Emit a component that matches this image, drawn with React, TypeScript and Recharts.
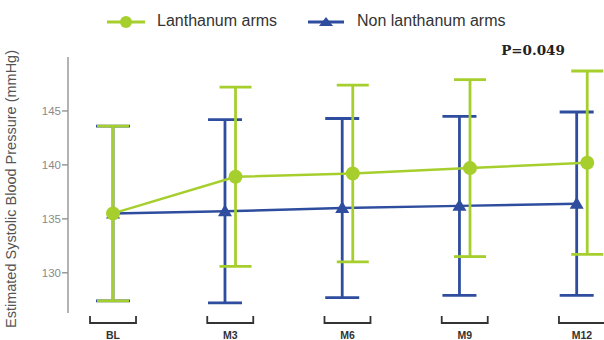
import React from 'react';
import { LineChart, Line, XAxis, YAxis, ErrorBar, Legend } from 'recharts';

const categories = ['BL', 'M3', 'M6', 'M9', 'M12'];
const lanthanumMean = [135.5, 138.9, 139.2, 139.7, 140.2];
const lanthanumSd = [8.1, 8.3, 8.2, 8.2, 8.5];
const nonLanthanumMean = [135.5, 135.7, 136.0, 136.2, 136.4];
const nonLanthanumSd = [8.1, 8.5, 8.3, 8.3, 8.5];
const yTicks = [130, 135, 140, 145];
const pValue = 'P=0.049';

const GREEN = '#a6cf2e';
const BLUE = '#2e4d9e';

// small side shift so the two groups' bars don't sit on top of each other (not at baseline)
const dodge = (i: number) => (i === 0 ? 0 : 0.045);

const greenData = categories.map((c, i) => ({ x: i + dodge(i), mean: lanthanumMean[i], sd: lanthanumSd[i], name: c }));
const blueData = categories.map((c, i) => ({ x: i - dodge(i), mean: nonLanthanumMean[i], sd: nonLanthanumSd[i], name: c }));

const Triangle = (props: any) => {
  const { cx, cy } = props;
  if (cx == null || cy == null) return null;
  return <polygon points={`${cx - 7},${cy + 5} ${cx + 7},${cy + 5} ${cx},${cy - 7}`} fill={BLUE} />;
};

const Bracket = (props: any) => {
  const { x, y, payload } = props;
  return (
    <g>
      <path d={`M${x - 23},${y + 3} V${y + 10} H${x + 23} V${y + 3}`} fill="none" stroke="#333" strokeWidth={1.8} />
      <text x={x} y={y + 26} textAnchor="middle" fontSize={10.5} fontWeight="bold" fill="#333" fontFamily="Liberation Sans, Arial, sans-serif">
        {categories[payload.value]}
      </text>
    </g>
  );
};

const LegendBox = () => (
  <div style={{ position: 'relative', width: 604, height: 36, fontFamily: 'Liberation Sans, Arial, sans-serif', fontSize: 16, color: '#333' }}>
    <svg style={{ position: 'absolute', left: 105, top: 14 }} width={42} height={16}>
      <line x1={2} y1={8} x2={40} y2={8} stroke={GREEN} strokeWidth={3} />
      <circle cx={21} cy={8} r={6} fill={GREEN} />
    </svg>
    <span style={{ position: 'absolute', left: 157, top: 12 }}>Lanthanum arms</span>
    <svg style={{ position: 'absolute', left: 306, top: 14 }} width={40} height={16}>
      <line x1={2} y1={8} x2={38} y2={8} stroke={BLUE} strokeWidth={3} />
      <polygon points="13,12 27,12 20,3" fill={BLUE} />
    </svg>
    <span style={{ position: 'absolute', left: 357, top: 12 }}>Non lanthanum arms</span>
  </div>
);

const App: React.FC = () => {
  return (
    <div style={{ position: 'absolute', left: 0, top: 0, width: 604, height: 340, background: '#fff', overflow: 'hidden' }}>
      <LineChart width={604} height={340} margin={{ top: 21, right: 0, left: 0, bottom: 0 }}>
        <Legend verticalAlign="top" content={<LegendBox />} wrapperStyle={{ top: 0, left: 0, width: 604, height: 36 }} />
        <XAxis
          type="number"
          dataKey="x"
          domain={[-0.384, 4.188]}
          ticks={[0, 1, 2, 3, 4]}
          allowDataOverflow
          axisLine={false}
          tickLine={false}
          tickSize={0}
          tickMargin={0}
          height={27}
          tick={<Bracket />}
          interval={0}
        />
        <YAxis
          type="number"
          domain={[126.27, 150]}
          ticks={yTicks}
          allowDataOverflow
          width={68}
          tickSize={6}
          tickMargin={1}
          stroke="#9a9a9a"
          strokeWidth={1.5}
          tick={{ fontSize: 11.5, fill: '#8a8a8a', fontFamily: 'Liberation Sans, Arial, sans-serif' }}
          label={{
            value: 'Estimated Systolic Blood Pressure (mmHg)',
            angle: -90,
            position: 'insideLeft',
            dx: 6,
            dy: 4,
            style: { textAnchor: 'middle', fontSize: 14.5, fill: '#555', fontFamily: 'Liberation Sans, Arial, sans-serif' },
          }}
        />
        <Line
          data={blueData}
          dataKey="mean"
          stroke={BLUE}
          strokeWidth={2.5}
          dot={<Triangle />}
          isAnimationActive={false}
        >
          <ErrorBar dataKey="sd" width={17} stroke={BLUE} strokeWidth={2.8} direction="y" />
        </Line>
        <Line
          data={greenData}
          dataKey="mean"
          stroke={GREEN}
          strokeWidth={2.5}
          dot={{ r: 7, fill: GREEN, stroke: GREEN, strokeWidth: 0 }}
          isAnimationActive={false}
        >
          <ErrorBar dataKey="sd" width={16} stroke={GREEN} strokeWidth={2.8} direction="y" />
        </Line>
        <text x={533} y={55} textAnchor="middle" fontSize={13.5} fontWeight="bold" fill="#222" fontFamily="DejaVu Serif, serif">
          {pValue}
        </text>
      </LineChart>
    </div>
  );
};

export default App;
